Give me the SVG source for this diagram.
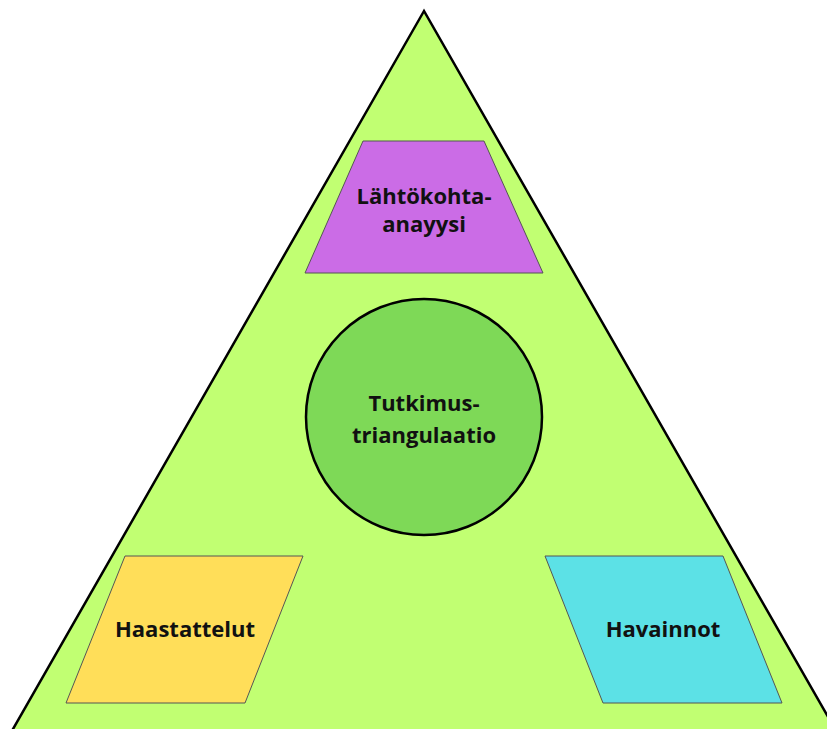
<svg xmlns="http://www.w3.org/2000/svg" width="827" height="729" viewBox="0 0 827 729">
<style>
.lbl{font-family:"Open Sans","Noto Sans","DejaVu Sans",sans-serif;font-weight:bold;font-size:22px;fill:#111;text-anchor:middle}
.box{stroke:#555;stroke-width:1}
</style>
<rect width="827" height="729" fill="#ffffff"/>
<g id="triangle">
<polygon points="424,11 5,743 843,743" fill="#C1FF72" stroke="#000" stroke-width="2.5" stroke-linejoin="miter"/>
</g>
<g id="connectors"></g>
<g id="lahtokohta">
<polygon class="box" points="363,141 484,141 543,273 305,273" fill="#CB6CE6"/>
<text class="lbl" x="424" y="204">Lähtökohta-</text>
<text class="lbl" x="424" y="232">anayysi</text>
</g>
<g id="triangulaatio">
<circle cx="424" cy="417" r="118" fill="#7ED957" stroke="#000" stroke-width="2.5"/>
<text class="lbl" x="424" y="411">Tutkimus-</text>
<text class="lbl" x="424" y="443">triangulaatio</text>
</g>
<g id="haastattelut">
<polygon class="box" points="125,556 303,556 245,703 66,703" fill="#FFDE59"/>
<text class="lbl" x="185" y="637">Haastattelut</text>
</g>
<g id="havainnot">
<polygon class="box" points="545,556 723,556 782,703 603,703" fill="#5CE1E6"/>
<text class="lbl" x="663" y="637">Havainnot</text>
</g>
</svg>
